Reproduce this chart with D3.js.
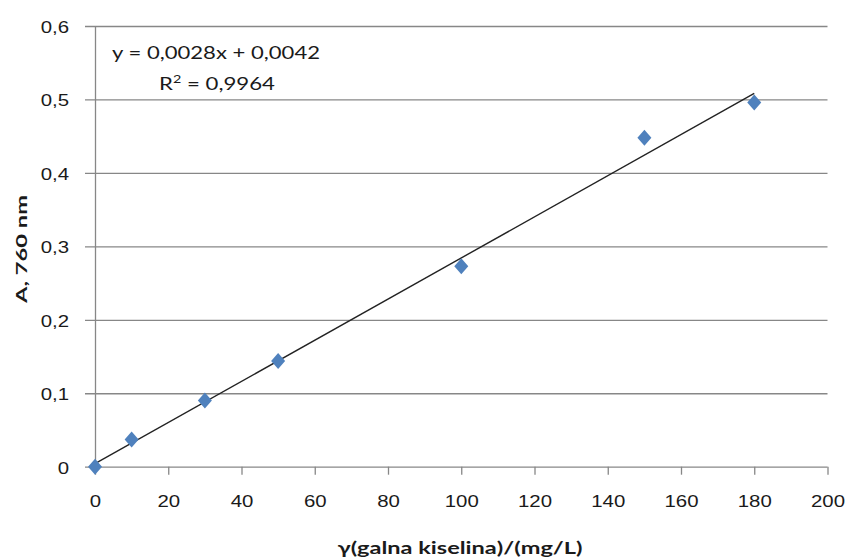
<!DOCTYPE html>
<html><head><meta charset="utf-8">
<script src="https://cdn.jsdelivr.net/npm/d3@7"></script>
<style>
body{margin:0;background:#fff;}
svg{display:block;font-family:Lato,"Open Sans",sans-serif;}
</style></head>
<body>
<svg id="c" width="848" height="558"></svg>
<script>
const xValues = [0, 10, 30, 50, 100, 150, 180];
const yValues = [0, 0.037, 0.090, 0.144, 0.273, 0.448, 0.496];
const xTicks = [0, 20, 40, 60, 80, 100, 120, 140, 160, 180, 200];
const yTicks = [0, 0.1, 0.2, 0.3, 0.4, 0.5, 0.6];
const slope = 0.0028, intercept = 0.0042;
const trendRange = [0, 180];
const equationText = "y = 0,0028x + 0,0042";
const r2Value = "0,9964";
const xTitle = "γ(galna kiselina)/(mg/L)";
const yTitle = "A, 760 nm";

const svg = d3.select("#c");
const x = d3.scaleLinear().domain([0, 200]).range([95, 827.5]);
const y = d3.scaleLinear().domain([0, 0.6]).range([466.7, 26]);
const grid = "#878787";
const fmt = v => v === 0 ? "0" : d3.format(".1f")(v).replace(".", ",");

// gridlines (with left tick stubs) via axisLeft
const gy = svg.append("g").attr("transform", `translate(${x(200)},0)`)
  .call(d3.axisLeft(y).tickValues(yTicks.filter(d => d > 0)).tickSize(x(200) - 85).tickFormat(""));
gy.select(".domain").remove();
gy.selectAll("line").attr("stroke", grid).attr("stroke-width", 1.3);

// y axis
const ay = svg.append("g").attr("transform", `translate(${x(0)},0)`)
  .call(d3.axisLeft(y).tickValues(yTicks).tickSize(0).tickPadding(26).tickFormat(fmt));
ay.select(".domain").attr("stroke", grid).attr("stroke-width", 1.3);
ay.selectAll("text").attr("font-size", 17).attr("fill", "#1a1a1a")
  .attr("dy", "0.38em")
  .attr("transform", "translate(-26,0) scale(1.2,1) translate(26,0)");

// x axis
const ax = svg.append("g").attr("transform", `translate(0,${y(0)})`)
  .call(d3.axisBottom(x).tickValues(xTicks).tickSize(8).tickPadding(20).tickFormat(d => d));
ax.select(".domain").attr("stroke", grid).attr("stroke-width", 1.3).attr("d", `M${x(0)-10},0.5H${x(200)}`);
ax.selectAll("line").attr("stroke", grid).attr("stroke-width", 1.3);
ax.selectAll("text").attr("font-size", 17).attr("fill", "#1a1a1a")
  .attr("transform", "scale(1.2,1)");

// trendline
svg.append("line")
  .attr("x1", x(trendRange[0])).attr("y1", y(slope * trendRange[0] + intercept))
  .attr("x2", x(trendRange[1])).attr("y2", y(slope * trendRange[1] + intercept))
  .attr("stroke", "#222").attr("stroke-width", 1.4);

// markers
const pts = xValues.map((v, i) => [v, yValues[i]]);
svg.append("g").selectAll("path").data(pts).join("path")
  .attr("transform", d => `translate(${x(d[0])},${y(d[1])})`)
  .attr("d", d3.symbol(d3.symbolDiamond2 || d3.symbolDiamond, 110))
  .attr("d", "M0,-8L7,0L0,8L-7,0Z")
  .attr("fill", "#4F81BD");

// equation
svg.append("text").attr("x", 216).attr("y", 59).attr("text-anchor", "middle")
  .attr("font-size", 17).attr("fill", "#1a1a1a")
  .attr("textLength", 208).attr("lengthAdjust", "spacingAndGlyphs")
  .text(equationText);
const r2 = svg.append("text").attr("x", 217).attr("y", 90).attr("text-anchor", "middle")
  .attr("font-size", 17).attr("fill", "#1a1a1a")
  .attr("textLength", 116).attr("lengthAdjust", "spacingAndGlyphs");
r2.append("tspan").text("R");
r2.append("tspan").attr("font-size", 11).attr("dy", -7).text("2");
r2.append("tspan").attr("dy", 7).text(" = " + r2Value);

// axis titles
svg.append("text").attr("x", 460).attr("y", 554).attr("text-anchor", "middle")
  .attr("font-size", 17).attr("font-weight", "bold").attr("fill", "#1a1a1a")
  .attr("textLength", 245).attr("lengthAdjust", "spacingAndGlyphs")
  .text(xTitle);
svg.append("text").attr("transform", "translate(27,249) rotate(-90)").attr("text-anchor", "middle")
  .attr("font-size", 15).attr("font-weight", "bold").attr("fill", "#1a1a1a")
  .attr("textLength", 108).attr("lengthAdjust", "spacingAndGlyphs")
  .text(yTitle);
</script>
</body></html>
